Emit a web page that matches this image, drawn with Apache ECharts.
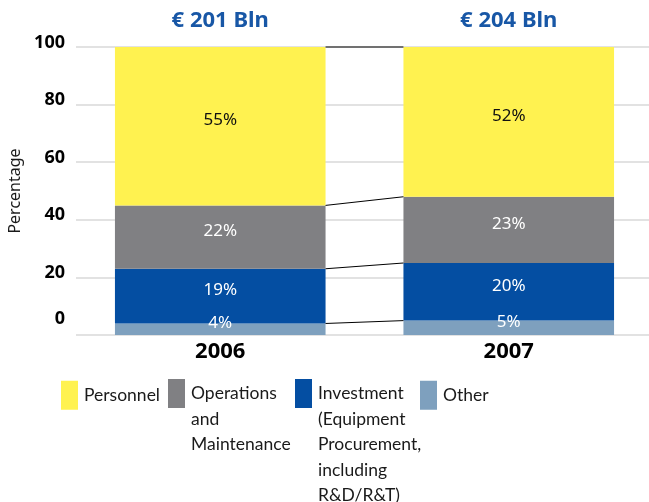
<!DOCTYPE html>
<html>
<head>
<meta charset="utf-8">
<script src="https://cdn.jsdelivr.net/npm/echarts@6.0.0/dist/echarts.min.js"></script>
<style>
  html, body { margin: 0; padding: 0; background: #fff; }
  #chart { width: 649px; height: 502px; }
</style>
</head>
<body>
<div id="chart"></div>
<script>
// data
var years = ["2006", "2007"];
var totals = [201, 204]; // € Bln
var other = [4, 5];
var investment = [19, 20];
var operations = [22, 23];
var personnel = [55, 52];
var yTicks = [0, 20, 40, 60, 80, 100];

var FONT = "Noto Sans";
var TEXT_FONT = "Lato";
var BAR_FRAC = 0.73;

// cumulative levels for the connector lines between the bars
var stackOrder = [other, investment, operations, personnel];
var levels = [];
var run = [0, 0];
stackOrder.forEach(function (s) {
  run = [run[0] + s[0], run[1] + s[1]];
  levels.push([0, run[0], run[1]]);
});

function barSeries(name, values, color, labelColor) {
  return {
    name: name,
    type: "bar",
    stack: "total",
    barWidth: (BAR_FRAC * 100) + "%",
    itemStyle: { color: color },
    label: {
      show: true,
      position: "inside",
      offset: [0, -6],
      formatter: "{c}%",
      color: labelColor,
      fontFamily: FONT,
      fontSize: 17
    },
    data: values
  };
}

function legendItem(name, text, left, lines) {
  // pad blank lines above so the first line sits beside the swatch
  var pad = "";
  for (var i = 1; i < lines; i++) pad += "\n";
  return {
    data: [name],
    left: left,
    top: 393.5 - (2 * lines - 1) * 25.5 / 2,
    padding: 0,
    icon: "rect",
    itemWidth: 17,
    itemHeight: 29,
    itemGap: 0,
    selectedMode: false,
    formatter: function () { return pad + text; },
    textStyle: {
      fontFamily: TEXT_FONT,
      fontSize: 17.5,
      color: "#1a1a1a",
      lineHeight: 25.5,
      padding: [0, 0, 0, 1]
    }
  };
}

var chart = echarts.init(document.getElementById("chart"));
chart.setOption({
  animation: false,
  textStyle: { fontFamily: FONT },
  grid: { left: 76, right: -4, top: 47, bottom: 167, outerBoundsMode: "none" },
  legend: [
    legendItem("Personnel", "Personnel", 61, 1),
    legendItem("Operations and Maintenance", "Operations\nand\nMaintenance", 168, 3),
    legendItem("Investment", "Investment\n(Equipment\nProcurement,\nincluding\nR&D/R&T)", 295, 5),
    legendItem("Other", "Other", 420, 1)
  ],
  xAxis: [
    {
      type: "category",
      data: years,
      axisLine: { show: false },
      axisTick: { show: false },
      axisLabel: {
        margin: 6,
        color: "#000",
        fontFamily: FONT,
        fontWeight: "bold",
        fontSize: 22
      }
    },
    {
      type: "category",
      position: "top",
      data: totals.map(function (t) { return "€ " + t + " Bln"; }),
      axisLine: { show: false },
      axisTick: { show: false },
      axisLabel: {
        margin: 15,
        color: "#1857a6",
        fontFamily: FONT,
        fontWeight: "bold",
        fontSize: 22
      }
    }
  ],
  yAxis: {
    type: "value",
    min: yTicks[0],
    max: yTicks[yTicks.length - 1],
    interval: yTicks[1] - yTicks[0],
    name: "Percentage",
    nameLocation: "middle",
    nameRotate: 90,
    nameGap: 51,
    nameTextStyle: { fontFamily: FONT, fontSize: 16, color: "#1a1a1a" },
    axisLine: { show: false },
    axisTick: { show: false },
    splitLine: { lineStyle: { color: "#d9d9d9", width: 1.5 } },
    axisLabel: {
      margin: 11,
      formatter: function (v) { return v === 0 ? "{z|0}" : "{a|" + v + "}"; },
      rich: {
        a: { fontFamily: FONT, fontWeight: "bold", fontSize: 18, color: "#000", padding: [0, 0, 9, 0] },
        z: { fontFamily: FONT, fontWeight: "bold", fontSize: 18, color: "#000", padding: [0, 0, 32, 0] }
      }
    }
  },
  series: [
    barSeries("Other", other, "#7ea0be", "#ffffff"),
    barSeries("Investment", investment, "#044ea2", "#ffffff"),
    barSeries("Operations and Maintenance", operations, "#808083", "#ffffff"),
    barSeries("Personnel", personnel, "#fff250", "#111111"),
    {
      name: "connectors",
      type: "custom",
      z: 5,
      encode: { x: 0, y: [1, 2] },
      data: levels,
      renderItem: function (params, api) {
        var a = api.coord([0, api.value(1)]);
        var b = api.coord([1, api.value(2)]);
        var half = api.size([1, 0])[0] * BAR_FRAC / 2;
        return {
          type: "line",
          shape: { x1: a[0] + half, y1: a[1], x2: b[0] - half, y2: b[1] },
          style: { stroke: "#000", lineWidth: 1 }
        };
      }
    }
  ]
});
</script>
</body>
</html>
